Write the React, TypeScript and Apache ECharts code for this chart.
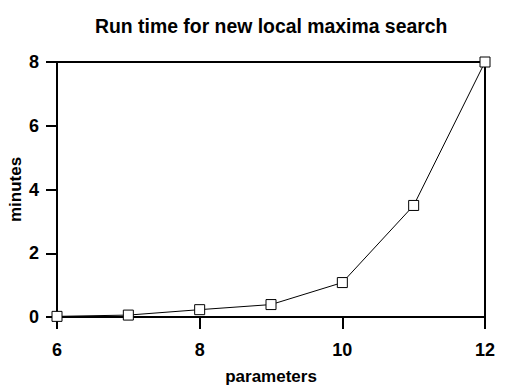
import React, { useEffect, useRef } from "react";
import * as echarts from "echarts";

const params = [6, 7, 8, 9, 10, 11, 12];
const minutes = [0.02, 0.06, 0.23, 0.39, 1.08, 3.5, 8.0];
const titleText = "Run time for new local maxima search";

export default function App() {
  const ref = useRef<HTMLDivElement>(null);
  useEffect(() => {
    const chart = echarts.init(ref.current!, null, { renderer: "svg" });
    const font = "'Liberation Sans', Arial, Helvetica, sans-serif";
    const frame = { show: true, onZero: false, lineStyle: { color: "#000", width: 2 } };
    chart.setOption({
      animation: false,
      backgroundColor: "#fff",
      title: {
        text: titleText,
        left: 90,
        top: 11,
        textStyle: { fontFamily: font, fontSize: 19.4, fontWeight: "bold", color: "#000" },
      },
      grid: {
        left: 57, right: 21, top: 62, bottom: 69,
        outerBoundsMode: "none",
        containLabel: false,
        show: false,
      },
      xAxis: [
        {
          type: "value",
          min: 6, max: 12, interval: 2,
          name: "parameters",
          nameLocation: "middle",
          nameGap: 51,
          nameMoveOverlap: false,
          nameTextStyle: { fontFamily: font, fontSize: 17, fontWeight: "bold", color: "#000" },
          axisLine: frame,
          axisTick: { show: true, inside: false, length: 12, lineStyle: { color: "#000", width: 2 } },
          axisLabel: { fontFamily: font, fontSize: 18, fontWeight: "bold", color: "#000", margin: 24 },
          splitLine: { show: false },
        },
        {
          type: "value",
          position: "top",
          min: 6, max: 12, interval: 2,
          axisLine: frame,
          axisTick: { show: false },
          axisLabel: { show: false },
          splitLine: { show: false },
        },
      ],
      yAxis: [
        {
          type: "value",
          min: 0, max: 8, interval: 2,
          name: "minutes",
          nameLocation: "middle",
          nameGap: 33,
          nameMoveOverlap: false,
          nameTextStyle: { fontFamily: font, fontSize: 17, fontWeight: "bold", color: "#000" },
          axisLine: frame,
          axisTick: { show: true, inside: false, length: 11, lineStyle: { color: "#000", width: 2 } },
          axisLabel: { fontFamily: font, fontSize: 18, fontWeight: "bold", color: "#000", margin: 18 },
          splitLine: { show: false },
        },
        {
          type: "value",
          position: "right",
          min: 0, max: 8, interval: 2,
          axisLine: frame,
          axisTick: { show: false },
          axisLabel: { show: false },
          splitLine: { show: false },
        },
      ],
      series: [
        {
          type: "line",
          data: params.map((p, i) => [p, minutes[i]]),
          symbol: "rect",
          symbolSize: 10,
          lineStyle: { color: "#000", width: 1 },
          itemStyle: { color: "#fff", borderColor: "#000", borderWidth: 1 },
          clip: false,
          z: 5,
        },
      ],
    });
    return () => chart.dispose();
  }, []);
  return <div ref={ref} style={{ width: 506, height: 386, position: "absolute", left: 0, top: 0 }} />;
}
